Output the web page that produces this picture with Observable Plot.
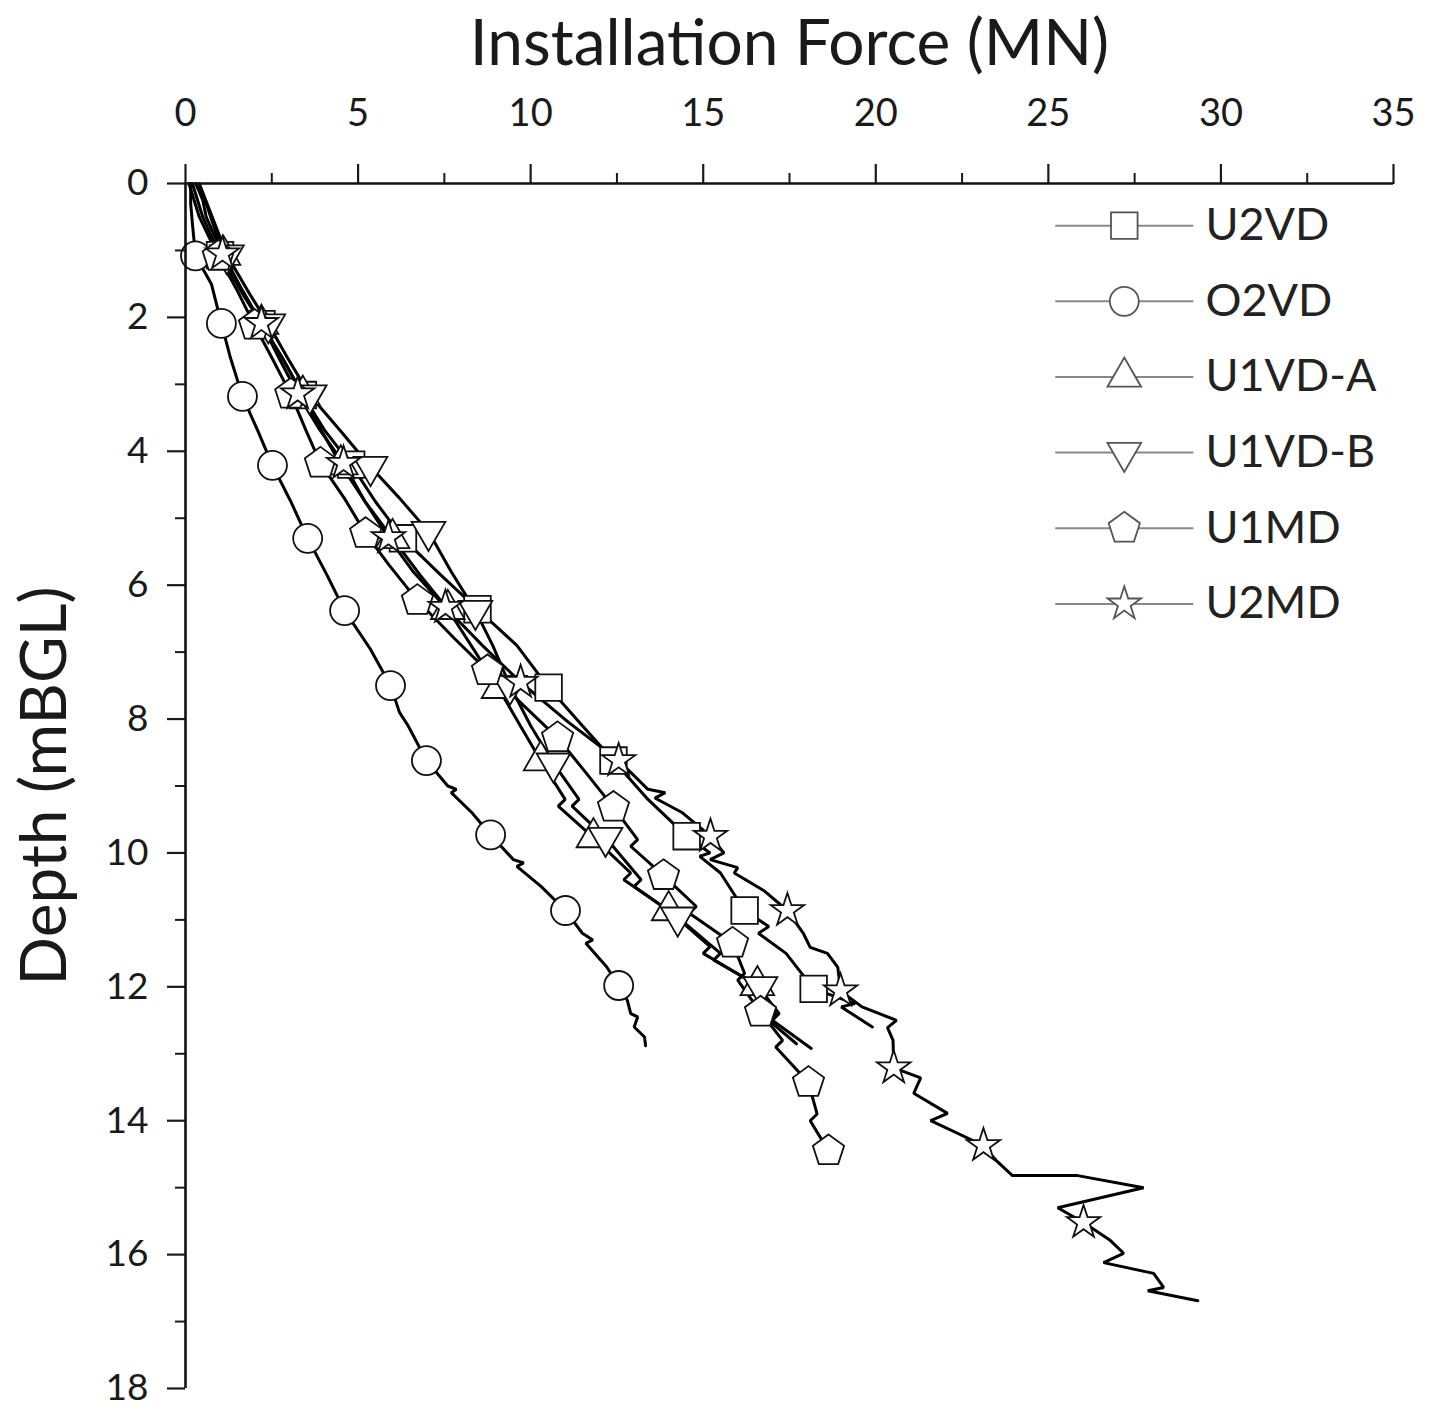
<!DOCTYPE html>
<html>
<head>
<meta charset="utf-8">
<script src="https://cdn.jsdelivr.net/npm/d3@7"></script>
<script src="https://cdn.jsdelivr.net/npm/@observablehq/plot@0.6"></script>
<style>
  body { margin: 0; background: #fff; }
  #chart svg { font-family: Lato, "Open Sans", sans-serif; }
</style>
</head>
<body>
<div id="chart"></div>
<script>
// ---------- DATA ----------
const seriesNames = ["U2VD", "O2VD", "U1VD-A", "U1VD-B", "U1MD", "U2MD"];
const xTicks = [0, 5, 10, 15, 20, 25, 30, 35];
const xMinorTicks = [2.5, 7.5, 12.5, 17.5, 22.5, 27.5, 32.5];
const yTicks = [0, 2, 4, 6, 8, 10, 12, 14, 16, 18];
const yMinorTicks = [1, 3, 5, 7, 9, 11, 13, 15, 17];
const xLabel = "Installation Force (MN)";
const yLabel = "Depth (mBGL)";

// traces: [depth (mBGL), force (MN)]
const u2vdTrace = [[0,0.2],[0.5,0.5],[1.07,1.0],[1.6,1.6],[2.1,2.2],[2.6,2.8],[3.16,3.4],[3.7,4.05],[4.2,4.8],[4.75,5.5],[5.3,6.3],[5.85,7.4],[6.36,8.46],[6.9,9.6],[7.53,10.52],[8.1,11.5],[8.62,12.4],[9.2,13.4],[9.75,14.52],[10.0,15.2],[10.05,14.9],[10.3,15.5],[10.86,16.2],[11.1,16.9],[11.2,16.6],[11.5,17.4],[12.03,18.2],[12.25,19.4],[12.3,19.0],[12.6,19.9]];
const o2vdTrace = [[0,0.15],[0.3,0.15],[0.6,0.2],[1.08,0.29],[1.5,0.75],[2.09,1.04],[2.6,1.3],[3.18,1.65],[3.7,2.1],[4.21,2.52],[4.75,3.05],[5.3,3.54],[5.85,4.1],[6.38,4.61],[6.95,5.35],[7.5,5.94],[7.9,6.2],[8.1,6.45],[8.62,6.98],[9.0,7.6],[9.05,7.85],[9.1,7.7],[9.4,8.3],[9.73,8.84],[10.1,9.5],[10.15,9.8],[10.2,9.6],[10.5,10.3],[10.86,11.01],[11.2,11.5],[11.3,11.8],[11.35,11.6],[11.7,12.2],[11.98,12.55],[12.2,12.8],[12.4,12.9],[12.45,13.1],[12.6,13.0],[12.75,13.3],[12.88,13.33]];
const u1vdaTrace = [[0,0.3],[0.3,0.6],[1.07,1.1],[1.6,1.65],[2.1,2.2],[2.6,2.8],[3.16,3.4],[3.7,3.95],[4.2,4.5],[4.75,5.2],[5.3,6.0],[5.85,6.8],[6.36,7.6],[7.0,8.4],[7.54,9.07],[8.1,9.7],[8.62,10.29],[9.2,11.0],[9.3,10.8],[9.77,11.82],[10.3,12.9],[10.4,12.7],[10.86,14.0],[11.4,15.2],[11.5,15.0],[11.98,16.57],[12.4,17.2],[12.5,17.0],[12.92,18.13]];
const u1vdbTrace = [[0,0.4],[0.4,0.7],[1.07,1.2],[1.6,1.8],[2.1,2.4],[2.6,2.95],[3.16,3.6],[3.7,4.5],[4.23,5.36],[4.7,6.2],[5.2,7.04],[5.8,7.7],[6.38,8.4],[6.9,8.9],[7.5,9.4],[8.1,10.0],[8.66,10.66],[9.2,11.4],[9.3,11.2],[9.77,12.17],[10.4,13.2],[10.5,13.0],[10.96,14.26],[11.5,15.5],[11.6,15.3],[12.0,16.66],[12.4,17.1],[12.5,16.9],[12.85,17.7]];
const u1mdTrace = [[0,0.1],[0.5,0.4],[1.09,0.95],[1.6,1.5],[2.12,2.0],[2.6,2.5],[3.15,3.05],[3.7,3.5],[4.18,3.91],[4.7,4.6],[5.23,5.22],[5.7,5.9],[6.23,6.72],[6.8,7.8],[7.28,8.75],[7.8,9.8],[8.28,10.78],[8.8,11.6],[9.32,12.4],[9.8,13.1],[9.9,12.9],[10.34,13.85],[10.8,14.8],[10.9,14.6],[11.35,15.85],[11.8,16.2],[11.9,16.0],[12.38,16.66],[12.8,17.3],[12.9,17.1],[13.43,18.05],[13.9,18.3],[14.0,18.1],[14.45,18.63]];
const u2mdTrace = [[0,0.3],[0.25,0.5],[0.5,0.6],[1.05,1.07],[1.6,1.65],[2.09,2.2],[2.6,2.7],[3.14,3.25],[3.65,3.85],[4.18,4.58],[4.75,5.2],[5.29,5.88],[5.8,6.6],[6.33,7.53],[6.9,8.6],[7.45,9.71],[8.05,11.1],[8.62,12.55],[9.05,13.4],[9.1,13.9],[9.18,13.6],[9.4,14.4],[9.75,15.21],[10.0,15.6],[10.1,15.2],[10.22,16.0],[10.3,15.9],[10.56,16.75],[10.86,17.44],[11.2,17.9],[11.41,18.1],[11.5,18.6],[11.71,18.9],[12.06,18.98],[12.3,19.6],[12.5,20.6],[12.61,20.34],[12.8,20.5],[13.21,20.52],[13.36,21.3],[13.59,21.1],[13.89,22.08],[14.0,21.59],[14.37,23.12],[14.6,23.5],[14.82,23.96],[14.82,25.85],[15.0,27.76],[15.3,25.27],[15.52,26.02],[15.79,26.8],[15.98,27.18],[16.12,26.6],[16.28,28.05],[16.49,28.34],[16.54,27.88],[16.69,29.33]];

// marker points: [depth, force]
const u2vdMarks = [[1.07,1.0],[2.1,2.2],[3.16,3.4],[4.2,4.8],[5.3,6.3],[6.36,8.46],[7.53,10.52],[8.62,12.4],[9.75,14.52],[10.86,16.2],[12.03,18.2]];
const o2vdMarks = [[1.08,0.29],[2.09,1.04],[3.18,1.65],[4.21,2.52],[5.3,3.54],[6.38,4.61],[7.5,5.94],[8.62,6.98],[9.73,8.84],[10.86,11.01],[11.98,12.55]];
const u1vdaMarks = [[1.07,1.1],[2.1,2.2],[3.16,3.4],[4.2,4.5],[5.3,6.0],[6.36,7.6],[7.54,9.07],[8.62,10.29],[9.77,11.82],[10.86,14.0],[11.98,16.57]];
const u1vdbMarks = [[1.07,1.2],[2.1,2.4],[3.16,3.6],[4.23,5.36],[5.2,7.04],[6.38,8.4],[7.5,9.4],[8.66,10.66],[9.77,12.17],[10.96,14.26],[12.0,16.66]];
const u1mdMarks = [[1.09,0.95],[2.12,2.0],[3.15,3.05],[4.18,3.91],[5.23,5.22],[6.23,6.72],[7.28,8.75],[8.28,10.78],[9.32,12.4],[10.34,13.85],[11.35,15.85],[12.38,16.66],[13.43,18.05],[14.45,18.63]];
const u2mdMarks = [[1.05,1.07],[2.09,2.2],[3.14,3.25],[4.18,4.58],[5.29,5.88],[6.33,7.53],[7.45,9.71],[8.62,12.55],[9.75,15.21],[10.86,17.44],[12.06,18.98],[13.21,20.52],[14.37,23.12],[15.52,26.02]];

// ---------- SYMBOLS ----------
function polygonSymbol(n, rotation) {
  return {
    draw(ctx, size) {
      const R = Math.sqrt(size / (n / 2 * Math.sin(2 * Math.PI / n)));
      for (let i = 0; i < n; i++) {
        const a = rotation + i * 2 * Math.PI / n;
        const x = R * Math.cos(a), y = R * Math.sin(a);
        if (i) ctx.lineTo(x, y); else ctx.moveTo(x, y);
      }
      ctx.closePath();
    }
  };
}
const triUp = polygonSymbol(3, -Math.PI / 2);
const triDown = polygonSymbol(3, Math.PI / 2);
const pentagon = polygonSymbol(5, -Math.PI / 2);

const series = [
  {name: seriesNames[0], trace: u2vdTrace, marks: u2vdMarks, symbol: "square", r: 15},
  {name: seriesNames[1], trace: o2vdTrace, marks: o2vdMarks, symbol: "circle", r: 14.5},
  {name: seriesNames[2], trace: u1vdaTrace, marks: u1vdaMarks, symbol: triUp, r: 12.5},
  {name: seriesNames[3], trace: u1vdbTrace, marks: u1vdbMarks, symbol: triDown, r: 12.5},
  {name: seriesNames[4], trace: u1mdTrace, marks: u1mdMarks, symbol: pentagon, r: 14.3},
  {name: seriesNames[5], trace: u2mdTrace, marks: u2mdMarks, symbol: "star", r: 10.5}
];

// ---------- MARKS ----------
const marks = [];
series.forEach(s => {
  marks.push(Plot.line(s.trace, {x: d => d[1], y: d => d[0], stroke: "#000", strokeWidth: 3, strokeLinejoin: "miter"}));
});
series.forEach(s => {
  marks.push(Plot.dot(s.marks, {x: d => d[1], y: d => d[0], symbol: s.symbol, r: s.r, fill: "white", stroke: "#111", strokeWidth: 1.8}));
});

// legend (in data units, top-right of frame)
const legendTop = 0.63, legendStep = 1.13;
const legendRows = series.map((s, i) => ({name: s.name, y: legendTop + i * legendStep}));
marks.push(Plot.link(legendRows, {x1: 25.2, x2: 29.2, y1: "y", y2: "y", stroke: "#888", strokeWidth: 2}));
series.forEach((s, i) => {
  marks.push(Plot.dot([legendRows[i]], {x: 27.2, y: "y", symbol: s.symbol, r: s.r, fill: "white", stroke: "#555", strokeWidth: 1.8}));
});
marks.push(Plot.text(legendRows, {x: 29.55, y: "y", text: "name", textAnchor: "start", lineAnchor: "middle", fontSize: 45, fill: "#222"}));

// axes
marks.push(
  Plot.axisX(xTicks, {anchor: "top", tickSize: 20, tickPadding: 38, fontSize: 38, label: null, strokeWidth: 2.2, color: "#1a1a1a"}),
  Plot.axisX(xMinorTicks, {anchor: "top", tickSize: 11, tickFormat: () => "", label: null, strokeWidth: 2, color: "#1a1a1a"}),
  Plot.axisY(yTicks, {anchor: "left", tickSize: 18, tickPadding: 19, fontSize: 37, tickFormat: d3.format("d"), label: null, strokeWidth: 2.2, color: "#1a1a1a"}),
  Plot.axisY(yMinorTicks, {anchor: "left", tickSize: 10, tickFormat: () => "", label: null, strokeWidth: 2, color: "#1a1a1a"}),
  Plot.ruleY([0], {stroke: "#111", strokeWidth: 2.6}),
  Plot.ruleX([0], {stroke: "#111", strokeWidth: 2.6}),
  Plot.text([xLabel], {text: d => d, frameAnchor: "top", dy: -139, lineAnchor: "middle", fontSize: 64, fill: "#1a1a1a"}),
  Plot.text([yLabel], {text: d => d, y: () => 9, frameAnchor: "left", dx: -140, rotate: -90, lineAnchor: "middle", textAnchor: "middle", fontSize: 64, fill: "#1a1a1a"})
);

const chart = Plot.plot({
  width: 1439,
  height: 1410,
  marginLeft: 185,
  marginRight: 46,
  marginTop: 183,
  marginBottom: 22,
  x: {domain: [0, 35]},
  y: {domain: [0, 18], reverse: true},
  style: {fontFamily: "Lato, 'Open Sans', sans-serif", background: "white", overflow: "visible"},
  marks
});
document.getElementById("chart").appendChild(chart);
</script>
</body>
</html>
